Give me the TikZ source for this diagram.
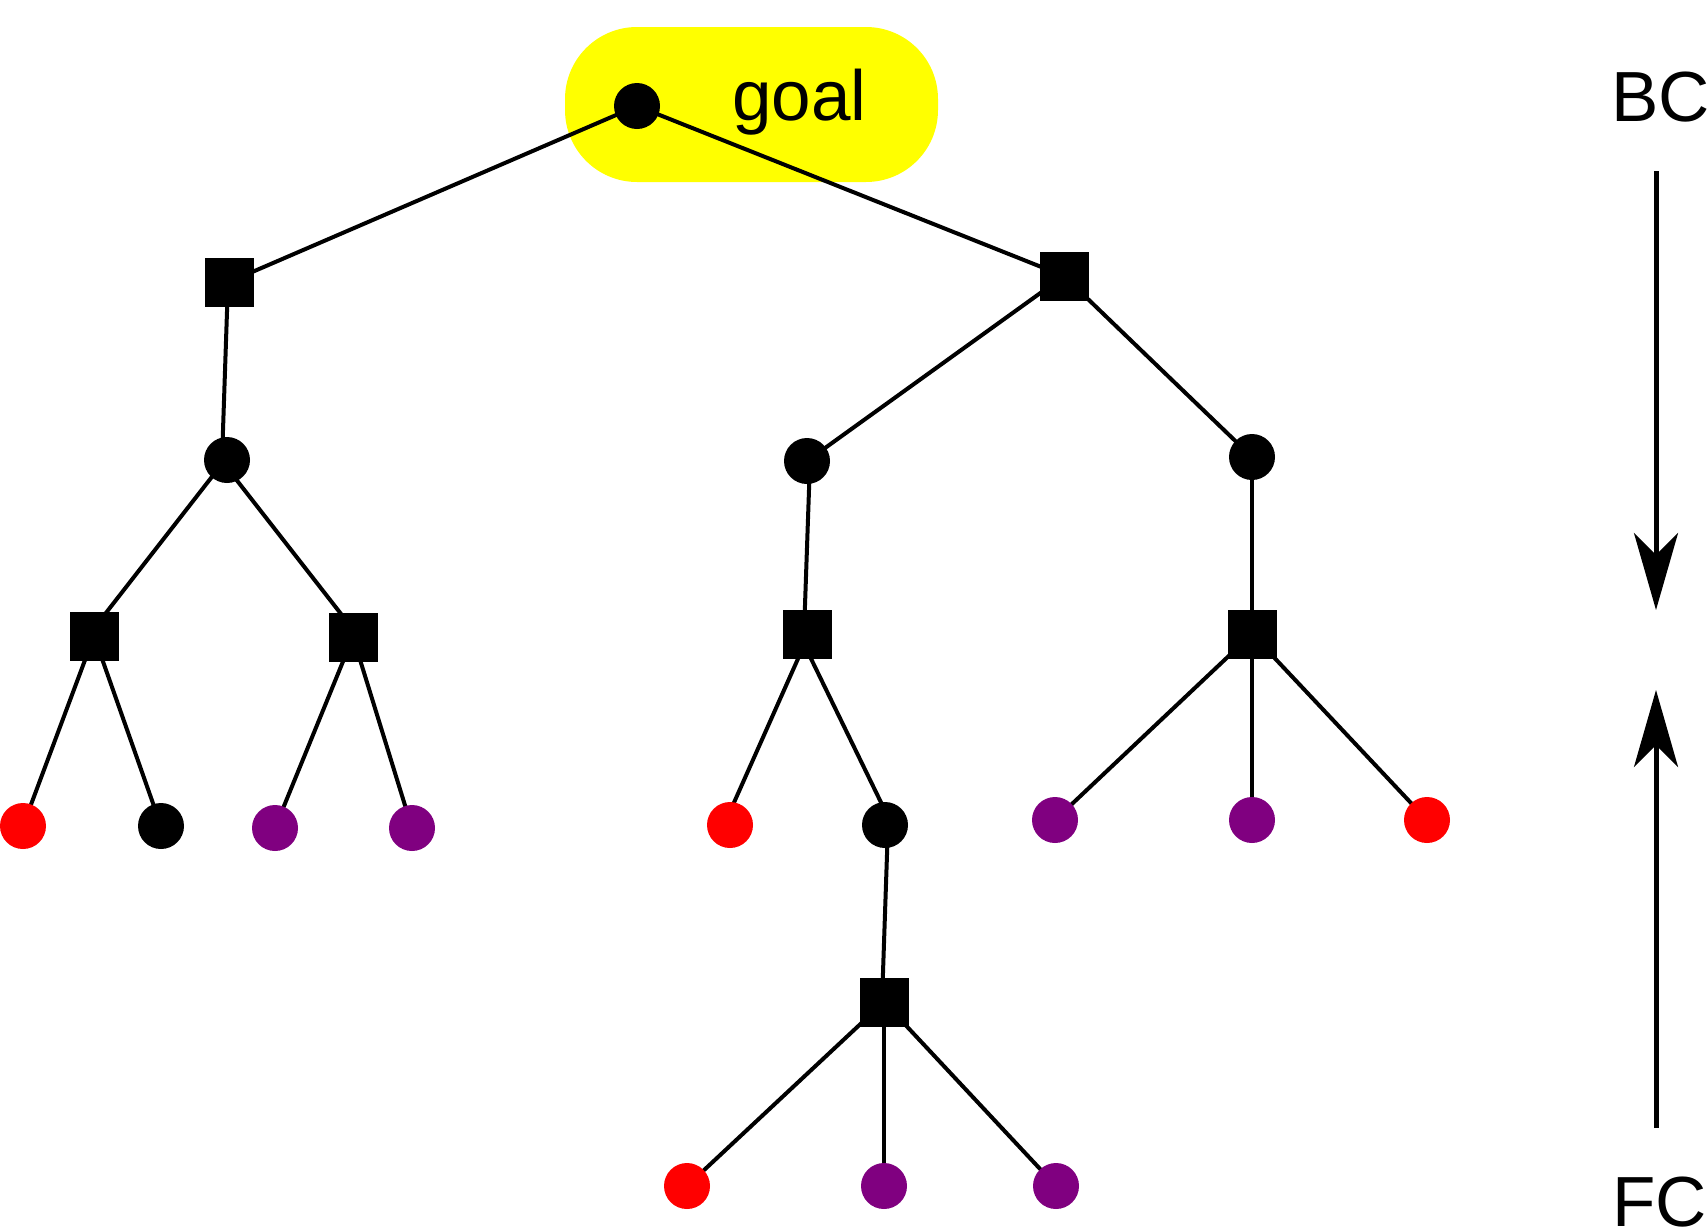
\documentclass[tikz,border=0pt]{standalone}
\usepackage{fontspec}
\setmainfont{Liberation Sans}
\usetikzlibrary{arrows.meta}
\definecolor{leafred}{HTML}{FF0000}
\definecolor{leafpurple}{HTML}{800080}
\definecolor{goalyellow}{HTML}{FFFF00}
\pgfdeclarelayer{bg}
\pgfdeclarelayer{edges}
\pgfsetlayers{bg,edges,main}
\begin{document}
\begin{tikzpicture}[x=1pt,y=-1pt,
  dot/.style={circle,fill=black,draw=none,minimum size=46pt,inner sep=0pt},
  reddot/.style={dot,fill=leafred},
  purpledot/.style={dot,fill=leafpurple},
  sq/.style={rectangle,fill=black,draw=none,minimum size=49pt,inner sep=0pt},
  edge/.style={draw=black,line width=4pt},
  flow/.style={draw=black,line width=5pt,-{Stealth[length=77pt,width=44pt,inset=22pt]}},
  lbl/.style={inner sep=0pt,font=\fontsize{71}{80}\selectfont}
]
\useasboundingbox (0,0) rectangle (1708,1229);
% nodes
\node[dot] (goal) at (637,106) {};
\node[lbl,anchor=base west] (goaltxt) at (732,120) {goal};
\node[sq] (L1) at (229,282) {};
\node[sq] (R1) at (1064,276) {};
\node[dot] (c1) at (227,460) {};
\node[sq] (s1) at (94,636) {};
\node[sq] (s2) at (353,637) {};
\node[reddot] (la) at (23,826) {};
\node[dot] (lb) at (161,826) {};
\node[purpledot] (lc) at (275,828) {};
\node[purpledot] (ld) at (412,828) {};
\node[dot] (c2) at (807,461) {};
\node[dot] (c3) at (1252,457) {};
\node[sq] (s3) at (807,634) {};
\node[sq] (s4) at (1252,634) {};
\node[reddot] (le) at (730,825) {};
\node[dot] (lf) at (885,825) {};
\node[sq] (s5) at (884,1002) {};
\node[reddot] (lg) at (687,1186) {};
\node[purpledot] (lh) at (884,1186) {};
\node[purpledot] (li) at (1056,1186) {};
\node[purpledot] (lj) at (1055,820) {};
\node[purpledot] (lk) at (1252,820) {};
\node[reddot] (ll) at (1427,820) {};
% yellow highlight
\begin{pgfonlayer}{bg}
\fill[white] (0,0) rectangle (1708,1229);
\node[fill=goalyellow,draw=none,rounded corners=72pt,minimum width=373pt,minimum height=155pt,inner sep=0pt] (hl) at (751.5,104.5) {};
\end{pgfonlayer}
% edges
\begin{pgfonlayer}{edges}
\draw[edge] (goal.center) -- (L1.center);
\draw[edge] (goal.center) -- (R1.center);
\draw[edge] ([xshift=-1pt]L1.center) -- ([xshift=-5pt]c1.center);
\draw[edge] ([xshift=-2pt]c1.center) -- ([xshift=-6pt]s1.center);
\draw[edge] ([xshift=-6pt]c1.center) -- ([xshift=6pt]s2.center);
\draw[edge] (s1.center) -- (la.center);
\draw[edge] (s1.center) -- (lb.center);
\draw[edge] (s2.center) -- (lc.center);
\draw[edge] (s2.center) -- (ld.center);
\draw[edge] (R1.center) -- (c2.center);
\draw[edge] (R1.center) -- (c3.center);
\draw[edge] ([xshift=3pt]c2.center) -- ([xshift=-3pt]s3.center);
\draw[edge] ([xshift=2pt]s3.center) -- ([xshift=-6pt]le.center);
\draw[edge] ([xshift=-8pt]s3.center) -- ([xshift=7pt]lf.center);
\draw[edge] ([xshift=3pt]lf.center) -- ([xshift=-2pt]s5.center);
\draw[edge] (s5.center) -- (lg.center);
\draw[edge] (s5.center) -- (lh.center);
\draw[edge] (s5.center) -- (li.center);
\draw[edge] (c3.center) -- (s4.center);
\draw[edge] (s4.center) -- (lj.center);
\draw[edge] (s4.center) -- (lk.center);
\draw[edge] (s4.center) -- (ll.center);
\end{pgfonlayer}
% BC / FC
\node[lbl,anchor=base west] (bc) at (1611,121) {BC};
\node[lbl,anchor=base west] (fc) at (1612,1226) {FC};
\coordinate (bcs) at (1656,171);
\coordinate (bce) at (1656,610);
\coordinate (fcs) at (1656,1128);
\coordinate (fce) at (1656,690);
\draw[flow] (bcs) -- (bce);
\draw[flow] (fcs) -- (fce);
\end{tikzpicture}
\end{document}
